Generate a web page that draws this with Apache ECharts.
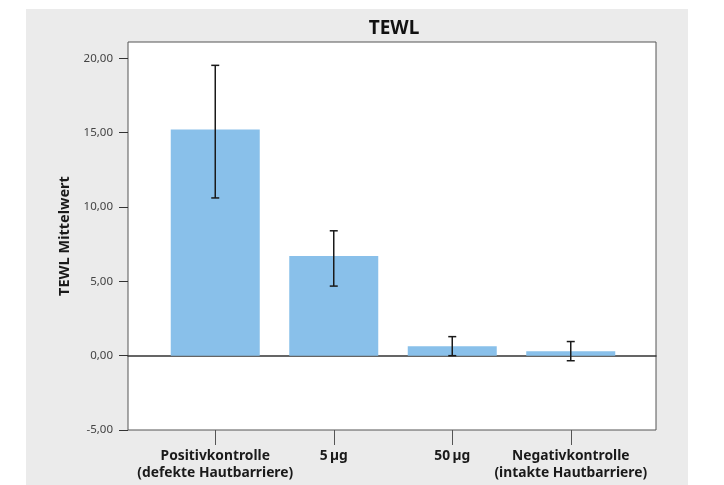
<!DOCTYPE html>
<html>
<head>
<meta charset="utf-8">
<script src="https://cdn.jsdelivr.net/npm/echarts@6/dist/echarts.min.js"></script>
<style>
html,body{margin:0;padding:0;background:#fff;}
#chart{width:724px;height:485px;}
</style>
</head>
<body>
<div id="chart"></div>
<script>
var categories = ["Positivkontrolle\n(defekte Hautbarriere)", "5\u2009µg", "50\u2009µg", "Negativkontrolle\n(intakte Hautbarriere)"];
var means = [15.22, 6.71, 0.63, 0.29];
var errLow = [10.61, 4.68, 0.0, -0.34];
var errHigh = [19.53, 8.40, 1.28, 0.95];
var yTicks = [-5, 0, 5, 10, 15, 20];

var FONT = "Noto Sans";
var chart = echarts.init(document.getElementById('chart'));

var errData = categories.map(function (c, i) { return [i, errLow[i], errHigh[i]]; });

var option = {
  backgroundColor: '#ffffff',
  animation: false,
  graphic: [{
    type: 'rect', z: -10, silent: true,
    shape: { x: 26, y: 9, width: 662, height: 476 },
    style: { fill: '#ebebeb' }
  }],
  title: {
    text: 'TEWL', left: 389, top: 14, textAlign: 'center',
    textStyle: { fontFamily: FONT, fontWeight: 'bold', fontSize: 19, color: '#111' }
  },
  grid: [
    { left: 128, right: 68, top: 42, bottom: 55, show: true, backgroundColor: '#ffffff', borderColor: '#555', borderWidth: 1, containLabel: false },
    { left: 156, right: 94, top: 42, bottom: 55, containLabel: false }
  ],
  xAxis: [
    { gridIndex: 0, type: 'value', min: 0, max: 1, show: true,
      axisLine: { show: true, onZero: true, lineStyle: { color: '#333', width: 1.5 } },
      axisTick: { show: false }, axisLabel: { show: false }, splitLine: { show: false } },
    { gridIndex: 1, type: 'category', data: categories, position: 'bottom', boundaryGap: true,
      axisLine: { show: false, onZero: false },
      axisTick: { show: true, alignWithLabel: true, length: 15, lineStyle: { color: '#555', width: 1 } },
      axisLabel: { show: true, interval: 0, margin: 18, lineHeight: 17, fontFamily: FONT, fontWeight: 'bold', fontSize: 13.8, color: '#1a1a1a' },
      splitLine: { show: false } }
  ],
  yAxis: [
    { gridIndex: 0, type: 'value', min: -5, max: 21.1, interval: 5,
      name: 'TEWL Mittelwert', nameLocation: 'middle', nameGap: 55, nameRotate: 90,
      nameTextStyle: { fontFamily: FONT, fontWeight: 'bold', fontSize: 14.5, color: '#1a1a1a' },
      axisLine: { show: false },
      axisTick: { show: true, length: 9, lineStyle: { color: '#333' } },
      axisLabel: { fontFamily: FONT, fontSize: 11.5, color: '#444', margin: 15,
        showMaxLabel: false,
        formatter: function (v) { return yTicks.indexOf(v) >= 0 ? v.toFixed(2).replace('.', ',') : ''; } },
      splitLine: { show: false } },
    { gridIndex: 1, type: 'value', min: -5, max: 21.1, show: false, splitLine: { show: false } }
  ],
  series: [
    { type: 'bar', xAxisIndex: 1, yAxisIndex: 1, data: means, barWidth: 89,
      itemStyle: { color: '#89c0ea' }, z: 2 },
    { type: 'custom', xAxisIndex: 1, yAxisIndex: 1, data: errData, z: 5,
      renderItem: function (params, api) {
        var x = api.value(0);
        var lo = api.coord([x, api.value(1)]);
        var hi = api.coord([x, api.value(2)]);
        var hw = 4;
        var st = { stroke: '#1a1a1a', lineWidth: 1.5 };
        return { type: 'group', children: [
          { type: 'line', shape: { x1: lo[0], y1: lo[1], x2: hi[0], y2: hi[1] }, style: st },
          { type: 'line', shape: { x1: lo[0] - hw, y1: lo[1], x2: lo[0] + hw, y2: lo[1] }, style: st },
          { type: 'line', shape: { x1: hi[0] - hw, y1: hi[1], x2: hi[0] + hw, y2: hi[1] }, style: st }
        ]};
      } }
  ]
};
chart.setOption(option);
</script>
</body>
</html>
